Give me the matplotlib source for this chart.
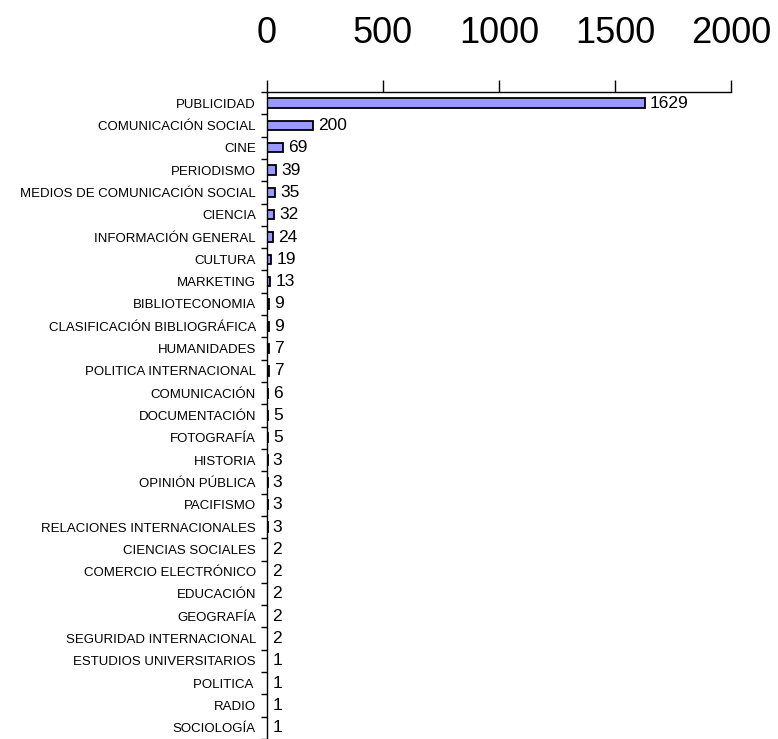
import matplotlib
matplotlib.use("Agg")
import matplotlib.pyplot as plt
import numpy as np

plt.rcParams['font.family'] = ['Liberation Sans', 'DejaVu Sans']

# datos del gráfico
categorias = [
    "PUBLICIDAD", "COMUNICACIÓN SOCIAL", "CINE", "PERIODISMO",
    "MEDIOS DE COMUNICACIÓN SOCIAL", "CIENCIA", "INFORMACIÓN GENERAL",
    "CULTURA", "MARKETING", "BIBLIOTECONOMIA", "CLASIFICACIÓN BIBLIOGRÁFICA",
    "HUMANIDADES", "POLITICA INTERNACIONAL", "COMUNICACIÓN", "DOCUMENTACIÓN",
    "FOTOGRAFÍA", "HISTORIA", "OPINIÓN PÚBLICA", "PACIFISMO",
    "RELACIONES INTERNACIONALES", "CIENCIAS SOCIALES", "COMERCIO ELECTRÓNICO",
    "EDUCACIÓN", "GEOGRAFÍA", "SEGURIDAD INTERNACIONAL",
    "ESTUDIOS UNIVERSITARIOS", "POLITICA ", "RADIO", "SOCIOLOGÍA",
]
valores = [1629, 200, 69, 39, 35, 32, 24, 19, 13, 9, 9, 7, 7, 6, 5, 5, 3, 3, 3,
           3, 2, 2, 2, 2, 2, 1, 1, 1, 1]
ticks_x = [0, 500, 1000, 1500, 2000]

fig = plt.figure(figsize=(7.78, 7.39), dpi=100)
ax = fig.add_axes([0.3432, 0.0, 0.5964, 0.8755])

y = np.arange(len(categorias))
ax.barh(y, valores, height=0.42, color='#9999ff', edgecolor='black', linewidth=1.3)

for yi, v in zip(y, valores):
    ax.text(v + 22, yi, str(v), va='center', ha='left', fontsize=12.5)

ax.set_xlim(0, 2000)
ax.set_ylim(len(categorias) - 0.5, -0.5)

# eje x arriba
ax.xaxis.tick_top()
ax.set_xticks(ticks_x)
ax.set_xticklabels([str(t) for t in ticks_x], fontsize=26)
ax.tick_params(axis='x', direction='out', length=8.5, width=1, pad=21)

# eje y: etiquetas sin marca, marcas en los limites
ax.set_yticks(y)
ax.set_yticklabels(categorias, fontsize=9.5)
ax.set_yticks(np.arange(len(categorias) + 1) - 0.5, minor=True)
ax.tick_params(axis='y', which='major', length=0, pad=8)
ax.tick_params(axis='y', which='minor', length=4, width=1, direction='out')

for s in ['right', 'bottom']:
    ax.spines[s].set_visible(False)
ax.spines['top'].set_linewidth(1)
ax.spines['left'].set_linewidth(1)

plt.savefig("out.png", dpi=100)
